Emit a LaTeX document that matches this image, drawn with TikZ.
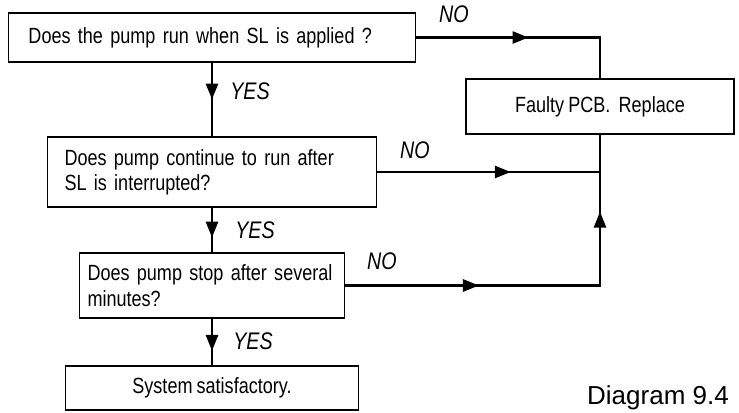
\documentclass[tikz,border=0pt]{standalone}
\usepackage{fontspec}
\setmainfont{Liberation Sans}
\newfontfamily\narrowfont[FakeStretch=0.82,WordSpace=0.82]{Liberation Sans}
\usetikzlibrary{arrows.meta,decorations.markings}

\begin{document}
\begin{tikzpicture}[x=0.75pt,y=-0.75pt,
    box/.style={draw, line width=0.8pt, inner ysep=0pt,
        font=\narrowfont\fontsize{16.5pt}{19pt}\selectfont},
    flow/.style={line width=2pt},
    midarrow/.style={postaction={decorate,decoration={markings,
        mark=at position #1 with {\arrow{Triangle[length=12pt,width=9pt]}}}}},
    answer/.style={font=\narrowfont\itshape\fontsize{18pt}{18pt}\selectfont}]
    \useasboundingbox (0,0) rectangle (739,412);

    % Questions
    \node[box, text width=275.25pt, inner xsep=15pt, minimum height=36.75pt, align=left]
        (q1) at (212,37.5) {Does the pump run when SL is applied ?};
    \node[box, text width=221.25pt, inner xsep=12.75pt, minimum height=52.5pt, align=left]
        (q2) at (212,172) {Does pump continue to run after\\SL is interrupted?};
    \node[box, text width=186.75pt, inner xsep=6pt, minimum height=48.75pt, align=left]
        (q3) at (212,285.5) {Does pump stop after several\\minutes?};

    % Outcomes
    \node[box, minimum width=219.75pt, minimum height=33pt] (ok) at (212,388) {System satisfactory.};
    \node[box, minimum width=201pt, minimum height=41.25pt] (pcb) at (600,106.5) {Faulty PCB.\ \ Replace};

    % YES branch
    \draw[flow, midarrow=0.5] (q1) -- (q2);
    \draw[flow, midarrow=0.67] (q2) -- (q3);
    \draw[flow, midarrow=0.69] (q3) -- (ok);
    \node[answer] (yes1) at (250,91) {YES};
    \node[answer] (yes2) at (255,230) {YES};
    \node[answer] (yes3) at (253,341) {YES};

    % NO branch
    \coordinate (join2) at (q2.east -| pcb.south);
    \draw[flow, midarrow=0.5] (q1.east) -| (pcb.north);
    \draw[flow, midarrow=0.6] (q2.east) -- (join2);
    \draw[flow, midarrow=0.33, midarrow=0.81] (q3.east) -| (pcb.south);
    \node[answer] (no1) at (454,14) {NO};
    \node[answer] (no2) at (415,150) {NO};
    \node[answer] (no3) at (382,261) {NO};

    \node[anchor=base, font=\fontsize{19.5pt}{20pt}\selectfont] (caption) at (658,404) {Diagram 9.4};
\end{tikzpicture}
\end{document}
